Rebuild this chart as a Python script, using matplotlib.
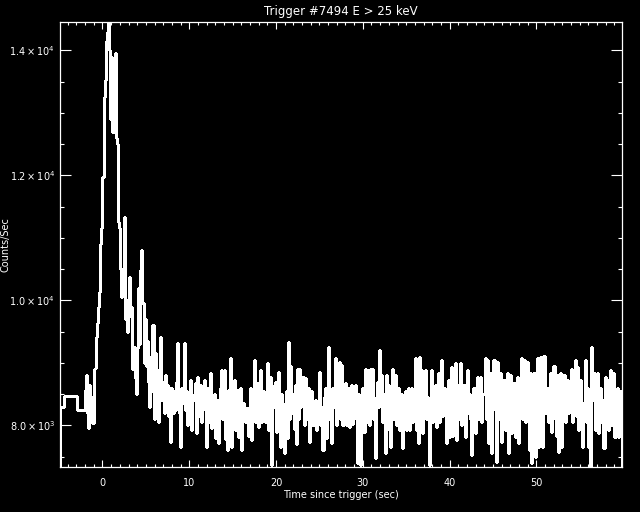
import sys
import numpy as np
import matplotlib
matplotlib.use('Agg')
import matplotlib.pyplot as plt
from matplotlib.ticker import MultipleLocator, FuncFormatter

# BATSE trigger 7494, E > 25 keV, counts/sec
# pre-trigger 1.024 s bins (edges in sec)
pre_edges = [-4.864, -4.40, -2.96, -2.048]
pre_rate = [8300, 8470, 8245]

# 0.128 s bins from -2.048 s onward
BIN_START = -2.048
BIN_WIDTH = 0.128

rate_burst = [8560, 8800, 8200, 7950, 8650, 8300, 8460, 8030, 8900, 8920,
	9420, 9630, 9900, 10140, 10900, 11150, 11980, 13260, 13520, 14150,
	14300, 14450, 14000, 12900, 13900, 12700, 13300, 13950, 12600, 12500,
	11250, 11150, 10500, 10050, 10500, 11340, 9700, 10000, 9500, 9800,
	10380, 9750, 9900, 8900, 9250, 8750, 8500, 9230, 10190, 9300,
	10480, 10800, 9950, 9000, 9700, 8950, 9350, 8700, 8300, 9100,
	8550, 9600, 8100, 9150, 8200, 8750, 8050, 8900, 9420, 8400,
	8700, 8200, 8800, 8350, 8650, 8150, 8600, 7740, 8600, 8200,
	8550, 8250, 8700, 9310, 8450, 8200, 7660, 8600, 8350, 9310,
	8250, 8550, 8000, 8450]

rate_10_20 = [8300, 8720, 7930, 8400, 8500, 8670, 7880, 8780, 8150, 8350,
	8650, 8050, 8500, 8730, 8250, 7660, 8600, 8050, 8400, 8830,
	7950, 8300, 8500, 7800, 8200, 8400, 7720, 8100, 8600, 8880,
	8100, 8880, 7780, 8350, 7610, 8560, 8150, 9070, 7660, 8400,
	8720, 7930, 8450, 8560, 7820, 8300, 8600, 7610, 8350, 8300,
	8050, 8200, 8280, 7830, 8150, 8600, 7770, 8350, 9040, 8050,
	8450, 8670, 7980, 8400, 8880, 8050, 8550, 8500, 8050, 8300,
	8990, 7930, 8500, 8780, 7370, 8300, 8650]

rate_20_30 = [8700, 7900, 8400, 8850, 8150, 7660, 8500, 8000, 7550, 8350,
	8550, 7800, 9340, 8100, 8950, 8200, 8500, 7940, 8650, 7700,
	8900, 8100, 8900, 8300, 8500, 8780, 8000, 8750, 8100, 8400,
	8600, 7740, 8300, 8550, 8000, 8300, 8400, 7920, 8200, 8350,
	8850, 8000, 8300, 7600, 8450, 8600, 7800, 8200, 9260, 8100,
	8500, 7720, 8600, 8300, 9070, 8000, 8800, 8400, 9020, 8100,
	8960, 8000, 8600, 8680, 8000, 8400, 8600, 7980, 8500, 8650,
	8020, 8300, 8650, 8100, 7390, 8500, 8200, 7360, 8400, 8600,
	7900]

rate_30_40 = [8900, 8050, 8450, 8880, 8000, 8900, 8600, 8900, 8100, 7470,
	8450, 8700, 8300, 9210, 8400, 8800, 8050, 8500, 7550, 8800,
	8200, 8650, 7930, 7650, 8400, 8900, 8100, 8800, 8000, 8400,
	8600, 7930, 8350, 8500, 7630, 8200, 8550, 7930, 8300, 8600,
	7930, 8400, 8600, 8050, 8350, 9070, 7930, 8500, 7720, 9100,
	8200, 8880, 7870, 8500, 8880, 8100, 8450, 8400, 7370, 8100,
	8880, 8050, 8500, 8650, 7980, 8300, 8830, 8050, 8450, 9040,
	8150, 8600, 8500, 7720, 8300, 8720, 7820, 8400, 8940, 7830,
	8500]

rate_40_50 = [9000, 7770, 8450, 8650, 8100, 8990, 8000, 8500, 8650, 7820,
	8300, 8880, 8200, 8500, 8100, 7530, 8400, 8600, 7880, 8350,
	8780, 8100, 8600, 8780, 8050, 8500, 8500, 9070, 8100, 9050,
	7720, 8400, 8830, 7550, 8250, 9040, 8400, 7420, 9020, 8100,
	8550, 8830, 7740, 8300, 8720, 7930, 8450, 8830, 7550, 8250,
	8800, 7870, 8500, 8670, 7820, 8350, 8780, 7720, 8450, 8400,
	9070, 8100, 9050, 8050, 8600, 9020, 8200, 7600, 8830, 7390,
	8300, 8830, 7500, 8400, 9070, 7660, 8500, 9100, 8000, 7660]

rate_50_60 = [9110, 8200, 8500, 8600, 8050, 8400, 8830, 7900, 8500, 8950,
	8100, 7830, 8800, 7580, 8350, 8830, 7660, 8300, 8800, 8050,
	8500, 8720, 8200, 8450, 8300, 8900, 8050, 8600, 9050, 8150,
	8930, 7930, 8400, 8720, 8100, 7660, 8350, 9050, 8050, 8600,
	7660, 8200, 7340, 9260, 8400, 8830, 7930, 8500, 8830, 7870,
	8400, 8600, 8050, 8400, 7630, 8780, 8300, 8720, 7930, 8450,
	8880, 8000, 8500, 8830, 7820, 8400, 8600, 7820, 8300, 8550,
	7850]


def sci_label(v, pos):
	e = int(np.floor(np.log10(v)))
	return r'$%.1f\times10^{%d}$' % (v / 10.0**e, e)


def main(args):

	fine = np.concatenate([rate_burst, rate_10_20, rate_20_30,
		rate_30_40, rate_40_50, rate_50_60])
	fine_edges = BIN_START + BIN_WIDTH * np.arange(1, len(fine) + 1)

	rate = np.concatenate([pre_rate, fine])
	edges = np.concatenate([pre_edges, fine_edges])

	fig = plt.figure(figsize=(6.4, 5.12), dpi=100, facecolor='black')
	ax = fig.add_axes([0.0942, 0.0873, 0.8781, 0.8703])
	ax.set_facecolor('black')

	ax.stairs(rate, edges, color='white', lw=0.75, antialiased=False)

	ax.set_xlim(edges[0], edges[-1])
	ax.set_ylim(7328, 14458)

	ax.xaxis.set_major_locator(MultipleLocator(10))
	ax.xaxis.set_minor_locator(MultipleLocator(1))
	ax.yaxis.set_major_locator(MultipleLocator(2000))
	ax.yaxis.set_minor_locator(MultipleLocator(500))
	ax.yaxis.set_major_formatter(FuncFormatter(sci_label))

	for sp in ax.spines.values():
		sp.set_color('white')
		sp.set_linewidth(0.9)

	ax.tick_params(which='both', direction='in', top=True, right=True,
		colors='white', width=0.8, labelsize=7)
	ax.tick_params(axis='x', which='major', length=5.2, pad=8)
	ax.tick_params(axis='x', which='minor', length=2.4)
	ax.tick_params(axis='y', which='major', length=7.7, pad=3.5)
	ax.tick_params(axis='y', which='minor', length=3.0)

	xc = 0.5333
	fig.text(xc, 1 - 11.7 / 512, 'Trigger #7494 E > 25 keV', color='white',
		fontsize=8.5, ha='center', va='center')
	fig.text(xc, 1 - 495.0 / 512, 'Time since trigger (sec)', color='white',
		fontsize=7, ha='center', va='center')
	fig.text(6.0 / 640, 1 - 244.5 / 512, 'Counts/Sec', color='white',
		fontsize=7, rotation=90, ha='center', va='center')

	fig.savefig('out.png', dpi=100, facecolor='black')
	return 0


if __name__ == '__main__':
	sys.exit(main(sys.argv))
